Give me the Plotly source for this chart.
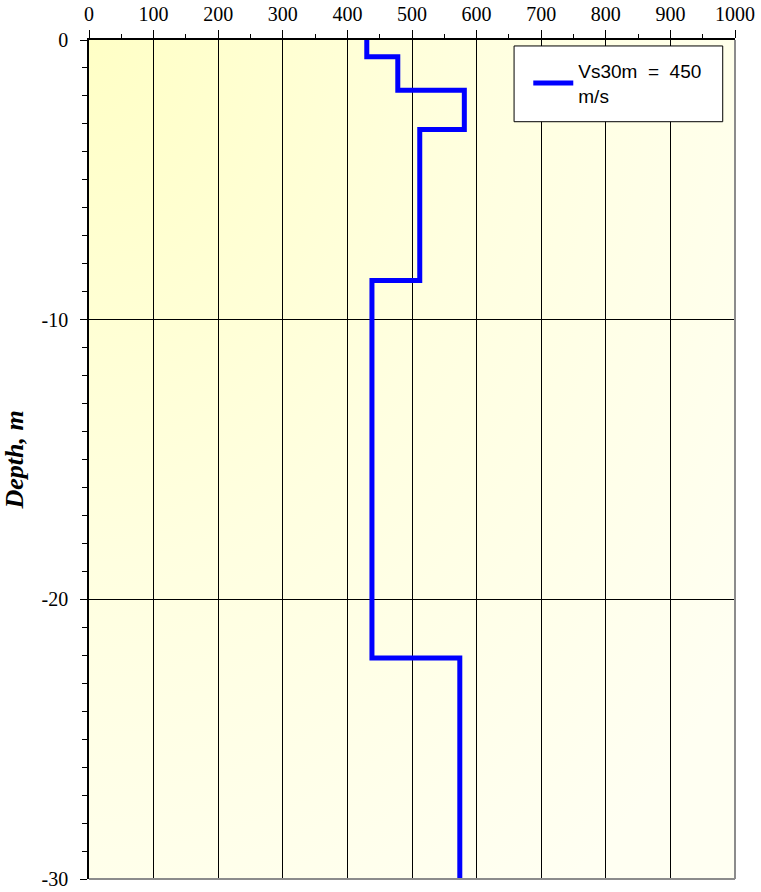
import base64
import plotly.graph_objects as go

# Data: shear-wave velocity profile (layered)
velocity_ms = [430, 478, 581, 512, 438, 574, 574]
depth_m = [0, -0.6, -1.8, -3.2, -8.6, -22.1, -30]
series_name = "Vs30m  =  450<br>m/s"
x_ticks = list(range(0, 1001, 100))
y_ticks = [0, -10, -20, -30]

svg = (
    '<svg xmlns="http://www.w3.org/2000/svg" width="400" height="500" viewBox="0 0 400 500" preserveAspectRatio="none">'
    '<defs><radialGradient id="g" cx="0" cy="0" r="1.25" gradientUnits="objectBoundingBox">'
    '<stop offset="0" stop-color="rgb(255,255,198)"/>'
    '<stop offset="0.5" stop-color="rgb(255,255,224)"/>'
    '<stop offset="1" stop-color="rgb(255,255,242)"/>'
    '</radialGradient></defs><rect width="400" height="500" fill="url(#g)"/></svg>'
)
bg_src = "data:image/svg+xml;base64," + base64.b64encode(svg.encode()).decode()

fig = go.Figure()
fig.add_trace(go.Scatter(
    x=velocity_ms, y=depth_m, mode="lines", line_shape="vh",
    line=dict(color="#0000FF", width=5), name=series_name, showlegend=True,
))

serif = "Liberation Serif, Times New Roman, serif"
fig.update_layout(
    width=761, height=892,
    margin=dict(l=89, r=26, t=40, b=13),
    paper_bgcolor="white",
    plot_bgcolor="rgba(0,0,0,0)",
    images=[dict(source=bg_src, xref="x", yref="y", x=0, y=0, sizex=1000, sizey=30,
                 sizing="stretch", xanchor="left", yanchor="top", layer="below")],
    xaxis=dict(
        range=[0, 1000], side="top", tickvals=x_ticks, ticktext=[str(v) for v in x_ticks],
        showgrid=True, gridcolor="black", gridwidth=1, zeroline=False,
        showline=True, linecolor="black", linewidth=1.5,
        ticks="outside", ticklen=8, tickcolor="black", tickwidth=1,
        ticklabelstandoff=1, ticklabeloverflow="allow",
        minor=dict(dtick=50, ticks="outside", ticklen=4, tickcolor="black", showgrid=False),
        tickfont=dict(family=serif, size=20, color="black"),
        automargin=False,
    ),
    yaxis=dict(
        range=[-30, 0], tickvals=y_ticks, ticktext=[str(v) for v in y_ticks],
        showgrid=True, gridcolor="black", gridwidth=1, zeroline=False,
        showline=True, linecolor="black", linewidth=1.5,
        ticks="outside", ticklen=7, tickcolor="black", tickwidth=1,
        ticklabelstandoff=8, ticklabeloverflow="allow",
        minor=dict(dtick=1, ticks="outside", ticklen=5, tickcolor="black", showgrid=False),
        tickfont=dict(family=serif, size=20, color="black"),
        title=dict(text="<b><i>Depth, m</i></b>", font=dict(family=serif, size=26, color="black"), standoff=17),
        automargin=False,
    ),
    legend=dict(
        x=0.68, y=0.986, xanchor="left", yanchor="top",
        bgcolor="rgba(0,0,0,0)", borderwidth=0,
        font=dict(family="Liberation Sans, Arial, sans-serif", size=19, color="black"),
        itemwidth=40,
    ),
    shapes=[
        dict(type="rect", xref="paper", yref="paper", x0=0.658, x1=0.981, y0=0.9026, y1=0.9929,
             fillcolor="white", line=dict(color="black", width=1), layer="above"),
        dict(type="line", xref="paper", yref="paper", x0=1, x1=1, y0=0, y1=1,
             line=dict(color="#8c8c8c", width=2)),
        dict(type="line", xref="paper", yref="paper", x0=0, x1=1, y0=0, y1=0,
             line=dict(color="#8c8c8c", width=2)),
    ],
)

fig.write_html("out.html", config={"displayModeBar": False},
               post_script="document.body.style.margin='0px';")
